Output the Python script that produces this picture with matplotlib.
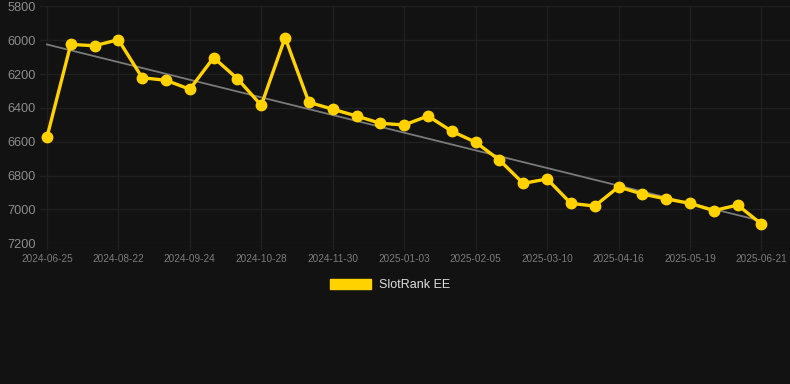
import numpy as np
import matplotlib
matplotlib.use("Agg")
import matplotlib.pyplot as plt
from matplotlib.patches import Patch

dates = ["2024-06-25", "", "", "2024-08-22", "", "", "2024-09-24", "", "", "2024-10-28", "", "",
         "2024-11-30", "", "", "2025-01-03", "", "", "2025-02-05", "", "", "2025-03-10", "", "",
         "2025-04-16", "", "", "2025-05-19", "", "", "2025-06-21"]
ranks = [6574, 6025, 6033, 5997, 6222, 6237, 6290, 6103, 6228, 6385, 5985, 6367,
         6408, 6448, 6491, 6501, 6448, 6538, 6603, 6708, 6846, 6820, 6964, 6980,
         6867, 6909, 6938, 6964, 7007, 6974, 7086]
series_name = "SlotRank EE"
y_ticks = [5800, 6000, 6200, 6400, 6600, 6800, 7000, 7200]

BG = "#121212"
GOLD = "#FFD200"
GRID = "#202020"
plt.rcParams['font.family'] = ['Liberation Sans', 'DejaVu Sans']

fig = plt.figure(figsize=(7.90, 3.84), dpi=100, facecolor=BG)
ax = fig.add_axes([40/790, 1-243.3/384, 750/790, (243.3-6.3)/384])
ax.set_facecolor(BG)

x = np.arange(len(ranks))
coef = np.polyfit(x, ranks, 1)
ax.plot(x, np.polyval(coef, x), color="#7a7a7a", lw=1.3, zorder=2)
ax.plot(x, ranks, color=GOLD, lw=2.4, marker='o', markersize=7.5, zorder=3, clip_on=False)

ax.set_ylim(7200, 5800)
ax.set_xlim(-0.29, len(ranks) - 1 + 1.2)
ax.set_yticks(y_ticks)
ax.set_yticklabels([str(v) for v in y_ticks])
tick_idx = [i for i, d in enumerate(dates) if d]
ax.set_xticks(tick_idx)
ax.set_xticklabels([dates[i] for i in tick_idx])

ax.grid(True, color=GRID, lw=1.0)
ax.set_axisbelow(True)
for s in ax.spines.values():
    s.set_visible(False)
ax.tick_params(axis='y', length=0, pad=3, labelsize=9.2, labelcolor="#8c8c8c")
ax.tick_params(axis='x', length=5, color=GRID, width=1.0, pad=3, labelsize=7.2, labelcolor="#7c7c7c")

fig.legend(handles=[Patch(facecolor=GOLD, edgecolor=GOLD)], labels=[series_name],
           loc='center', bbox_to_anchor=(390/790, 1-285/384), frameon=False,
           fontsize=9, labelcolor="#dddddd", handlelength=3.3, handleheight=0.9,
           handletextpad=0.6)

fig.savefig("out.png", dpi=100, facecolor=BG)
